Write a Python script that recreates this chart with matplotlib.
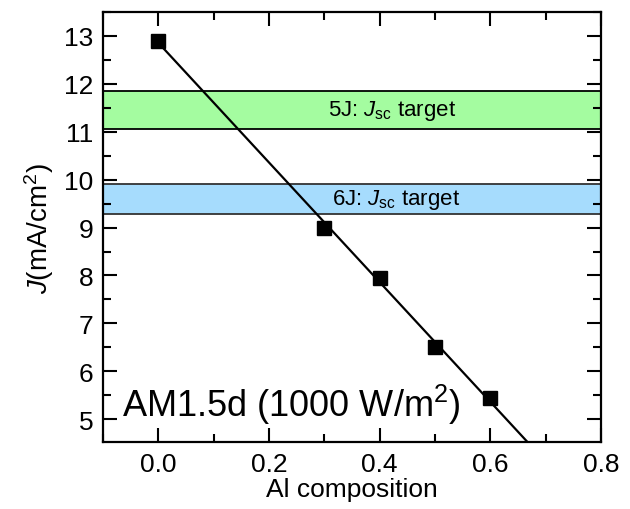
import numpy as np
import matplotlib
matplotlib.use('Agg')
import matplotlib.pyplot as plt
from matplotlib.ticker import MultipleLocator

plt.rcParams['font.family'] = ['Liberation Sans', 'DejaVu Sans']
plt.rcParams['mathtext.fontset'] = 'custom'
plt.rcParams['mathtext.rm'] = 'Liberation Sans'
plt.rcParams['mathtext.it'] = 'Liberation Sans:italic'

# data
al_comp = [0.0, 0.3, 0.4, 0.5, 0.6]
j_val = [12.9, 9.0, 7.95, 6.5, 5.45]
band_5j = (11.05, 11.85)
band_6j = (9.28, 9.9)

fig = plt.figure(figsize=(6.3, 5.1), dpi=100)
ax = fig.add_axes([0.1635, 0.131, 0.7905, 0.8435])

# green / blue target bands
ax.axhspan(band_5j[0], band_5j[1], facecolor='#a4fca0', edgecolor='black', lw=1.3, zorder=1)
ax.axhspan(band_6j[0], band_6j[1], facecolor='#a6dcfd', edgecolor='#333333', lw=1.3, zorder=1)
ax.text(0.423, sum(band_5j) / 2, '5J: $J_{\\mathrm{sc}}$ target', ha='center', va='center', fontsize=16, zorder=3)
ax.text(0.43, sum(band_6j) / 2, '6J: $J_{\\mathrm{sc}}$ target', ha='center', va='center', fontsize=16, zorder=3)

# linear fit line
k, b = np.polyfit(al_comp, j_val, 1)
xs = np.array([0.0, 0.75])
ax.plot(xs, k * xs + b, color='black', lw=1.6, zorder=2)
ax.plot(al_comp, j_val, 's', color='black', ms=10, zorder=4)

ax.text(-0.066, 5.06, 'AM1.5d (1000 W/m$^2$)', fontsize=26, ha='left', va='baseline')

ax.set_xlim(-0.1, 0.8)
ax.set_ylim(4.52, 13.5)
ax.xaxis.set_major_locator(MultipleLocator(0.2))
ax.xaxis.set_minor_locator(MultipleLocator(0.1))
ax.yaxis.set_major_locator(MultipleLocator(1))
ax.yaxis.set_minor_locator(MultipleLocator(0.5))
ax.set_xticks([0.0, 0.2, 0.4, 0.6, 0.8])
ax.tick_params(which='both', direction='in', top=True, right=True, width=1.5, labelsize=19)
ax.tick_params(which='major', length=10, pad=7)
ax.tick_params(which='minor', length=5.5)
for s in ax.spines.values():
    s.set_linewidth(1.6)

ax.set_xlabel('Al composition', fontsize=19, labelpad=1)
ax.set_ylabel('$J$(mA/cm$^2$)', fontsize=20, labelpad=6)

fig.savefig('out.png', dpi=100)
